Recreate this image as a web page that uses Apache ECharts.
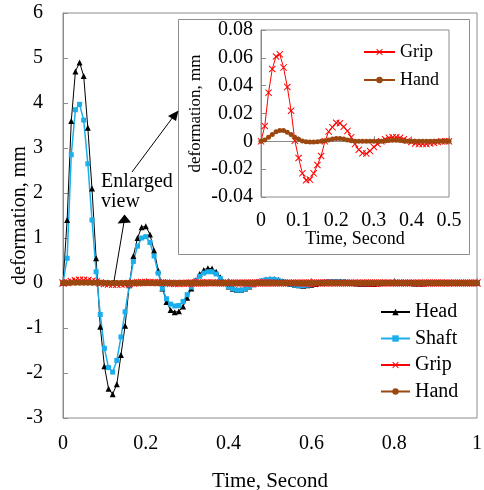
<!DOCTYPE html>
<html>
<head>
<meta charset="utf-8">
<script src="https://cdn.jsdelivr.net/npm/echarts/dist/echarts.min.js"></script>
<style>
html,body{margin:0;padding:0;background:#fff;}
#chart{width:484px;height:490px;}
</style>
</head>
<body>
<div id="chart"></div>
<script>
// Sample times (s)
const time = [0,0.01,0.02,0.03,0.04,0.05,0.06,0.07,0.08,0.09,
0.10,0.11,0.12,0.13,0.14,0.15,0.16,0.17,0.18,0.19,
0.20,0.21,0.22,0.23,0.24,0.25,0.26,0.27,0.28,0.29,
0.30,0.31,0.32,0.33,0.34,0.35,0.36,0.37,0.38,0.39,
0.40,0.41,0.42,0.43,0.44,0.45,0.46,0.47,0.48,0.49,
0.50,0.51,0.52,0.53,0.54,0.55,0.56,0.57,0.58,0.59,
0.60,0.61,0.62,0.63,0.64,0.65,0.66,0.67,0.68,0.69,
0.70,0.71,0.72,0.73,0.74,0.75,0.76,0.77,0.78,0.79,
0.80,0.81,0.82,0.83,0.84,0.85,0.86,0.87,0.88,0.89,
0.90,0.91,0.92,0.93,0.94,0.95,0.96,0.97,0.98,0.99,1.00];

// Head deformation (mm)
const head = [0,1.4,3.6,4.7,4.9,4.6,3.45,2.1,0.55,-0.97,
-1.85,-2.35,-2.47,-2.25,-1.6,-0.95,-0.05,0.6,1.0,1.24,
1.26,1.08,0.72,0.28,-0.12,-0.42,-0.6,-0.65,-0.63,-0.52,
-0.33,-0.12,0.06,0.2,0.29,0.33,0.32,0.25,0.13,0.01,
-0.08,-0.13,-0.15,-0.15,-0.12,-0.08,-0.03,0.02,0.05,0.08,
0.09,0.09,0.07,0.04,0.01,-0.02,-0.04,-0.05,-0.06,-0.05,
-0.04,-0.02,0.0,0.01,0.02,0.03,0.03,0.03,0.02,0.01,
0.0,-0.01,-0.02,-0.02,-0.02,-0.02,-0.01,0.0,0.01,0.01,
0.01,0.01,0.01,0.0,0.0,-0.01,-0.01,-0.01,0.0,0.0,
0.0,0.01,0.0,0.0,0.0,0.0,0.0,0.0,0.0,0.0,0.0];

// Shaft deformation (mm)
const shaft = [0,0.55,2.85,3.85,3.97,3.62,2.65,1.4,0.25,-0.7,
-1.45,-1.88,-1.98,-1.72,-1.2,-0.64,-0.05,0.48,0.82,1.0,
1.03,0.9,0.6,0.22,-0.12,-0.35,-0.47,-0.51,-0.5,-0.41,
-0.26,-0.09,0.05,0.15,0.22,0.25,0.25,0.2,0.1,0.0,
-0.08,-0.13,-0.16,-0.16,-0.13,-0.08,-0.03,0.02,0.05,0.07,
0.08,0.08,0.06,0.03,0.0,-0.03,-0.05,-0.06,-0.06,-0.05,
-0.03,-0.01,0.01,0.02,0.03,0.03,0.03,0.02,0.02,0.01,
0.0,-0.01,-0.02,-0.02,-0.02,-0.01,-0.01,0.0,0.01,0.01,
0.01,0.01,0.0,0.0,0.0,-0.01,-0.01,0.0,0.0,0.0,
0.0,0.0,0.0,0.0,0.0,0.0,0.0,0.0,0.0,0.0,0.0];

// Grip deformation (mm), 0 - 0.5 s
const grip = [0,0.011,0.035,0.052,0.061,0.0625,0.053,0.039,0.022,0.0005,
-0.012,-0.023,-0.028,-0.0275,-0.023,-0.017,-0.0105,0.0,0.007,0.0102,
0.0133,0.013,0.0105,0.0075,0.003,-0.002,-0.006,-0.0085,-0.0088,-0.007,
-0.004,-0.002,0.0,0.0015,0.0025,0.003,0.003,0.0025,0.0015,0.0005,
-0.0005,-0.0015,-0.002,-0.002,-0.002,-0.0015,-0.001,-0.0005,0,0,0];
// Grip, 0.51 - 1.0 s
const gripTail = [0,0.0005,0.001,0.001,0.0005,0,-0.0005,-0.001,-0.001,-0.0005,
0,0.0005,0.0005,0.0005,0,0,-0.0005,-0.0005,0,0,
0,0,0,0,0,0,0,0,0,0,
0,0,0,0,0,0,0,0,0,0,
0,0,0,0,0,0,0,0,0,0];

// Hand deformation (mm), 0 - 0.5 s
const hand = [0,0.001,0.003,0.005,0.0068,0.0077,0.0077,0.0066,0.005,0.003,
0.0015,0.0003,-0.0003,-0.0005,-0.0005,-0.0003,0.0,0.0005,0.001,0.0017,
0.002,0.002,0.0016,0.001,0.0005,0,0,0,0,0,
0,0,0,0.0003,0.0006,0.0008,0.0008,0.0006,0.0003,0,
0,0,0,0,0,0,0,0,0,0,0];
// Hand, 0.51 - 1.0 s
const handTail = [0,0,0,0,0,0,0,0,0,0,
0,0,0,0,0,0,0,0,0,0,
0,0,0,0,0,0,0,0,0,0,
0,0,0,0,0,0,0,0,0,0,
0,0,0,0,0,0,0,0,0,0];

const FONT = 'Liberation Serif';
const AX = '#8c8c8c';
const C_HEAD = '#000000', C_SHAFT = '#1aaeea', C_GRIP = '#ff0000', C_HAND = '#9b4710';
const X_SYMBOL = 'path://M0,1L1,0L5,4L9,0L10,1L6,5L10,9L9,10L5,6L1,10L0,9L4,5Z';

const pair = (ts, vs) => vs.map((v, i) => [ts[i], v]);
const gripFull = grip.concat(gripTail);
const handFull = hand.concat(handTail);
const tInset = time.slice(0, grip.length);

function axisCommon(fs) {
  return {
    nameMoveOverlap: false,
    axisLine: {show: true, lineStyle: {color: AX, width: 1}},
    axisTick: {show: true, inside: true, length: 5, lineStyle: {color: AX}},
    splitLine: {show: false},
    axisLabel: {color: '#000', fontSize: fs, fontFamily: FONT},
    nameTextStyle: {color: '#000', fontFamily: FONT}
  };
}

const chart = echarts.init(document.getElementById('chart'), null, {renderer: 'canvas'});

const x0 = axisCommon(20), y0 = axisCommon(20), x1 = axisCommon(20), y1 = axisCommon(20);
Object.assign(x0, {gridIndex: 0, type: 'value', min: 0, max: 1, interval: 0.2,
  name: 'Time, Second', nameLocation: 'middle', nameGap: 53});
x0.axisLabel.margin = 16; x0.nameTextStyle.fontSize = 21;
Object.assign(y0, {gridIndex: 0, type: 'value', min: -3, max: 6, interval: 1,
  name: 'deformation, mm', nameLocation: 'middle', nameGap: 33});
y0.axisLabel.margin = 20; y0.nameTextStyle.fontSize = 20;
Object.assign(x1, {gridIndex: 1, type: 'value', min: 0, max: 0.5, interval: 0.1, z: 12,
  name: 'Time, Second', nameLocation: 'middle', nameGap: 33});
x1.axisLabel.margin = 14; x1.nameTextStyle.fontSize = 18;
Object.assign(y1, {gridIndex: 1, type: 'value', min: -0.04, max: 0.08, interval: 0.02, z: 12,
  name: 'deformation, mm', nameLocation: 'middle', nameGap: 57});
y1.axisLabel.margin = 8; y1.nameTextStyle.fontSize = 17;

const option = {
  animation: false,
  backgroundColor: '#fff',
  grid: [
    {left: 63, top: 13, width: 414, height: 405, show: true, borderColor: AX, borderWidth: 1,
      backgroundColor: 'transparent', containLabel: false, outerBoundsMode: 'none'},
    {left: 261, top: 30, width: 188, height: 167, show: true, borderColor: AX, borderWidth: 1,
      backgroundColor: 'transparent', z: 11, containLabel: false, outerBoundsMode: 'none'}
  ],
  xAxis: [x0, x1],
  yAxis: [y0, y1],
  legend: [
    {data: ['Head', 'Shaft', 'Grip', 'Hand'], orient: 'vertical', left: 380, top: 302,
      itemWidth: 29, itemHeight: 8, itemGap: 6.5, padding: 0, selectedMode: false,
      textStyle: {fontSize: 20, fontFamily: FONT, color: '#000'}},
    {data: ['Grip', 'Hand'], orient: 'vertical', left: 363, top: 43, z: 14,
      itemWidth: 31, itemHeight: 8, itemGap: 10, padding: 0, selectedMode: false,
      textStyle: {fontSize: 18, fontFamily: FONT, color: '#000'}}
  ],
  graphic: [
    {type: 'rect', z: 10, shape: {x: 178.5, y: 19.5, width: 291, height: 235},
      style: {fill: '#fff', stroke: AX, lineWidth: 1}},
    {type: 'text', z: 10, x: 101, y: 172,
      style: {text: 'Enlarged\nview', font: '20px "Liberation Serif"', fill: '#000', lineHeight: 20, verticalAlign: 'top', align: 'left'}},
    {type: 'line', z: 10, shape: {x1: 132, y1: 172, x2: 173, y2: 117}, style: {stroke: '#000', lineWidth: 1}},
    {type: 'polygon', z: 10, shape: {points: [[178.5, 110.5], [168, 116], [176, 121]]}, style: {fill: '#000'}},
    {type: 'line', z: 10, shape: {x1: 124, y1: 222, x2: 114, y2: 281}, style: {stroke: '#000', lineWidth: 1}},
    {type: 'polygon', z: 10, shape: {points: [[124.5, 214.5], [117.5, 223.5], [131, 222.5]]}, style: {fill: '#000'}}
  ],
  series: [
    {name: 'Head', type: 'line', xAxisIndex: 0, yAxisIndex: 0, data: pair(time, head),
      symbol: 'triangle', symbolSize: 6, showSymbol: true,
      lineStyle: {color: C_HEAD, width: 1}, itemStyle: {color: C_HEAD}},
    {name: 'Shaft', type: 'line', xAxisIndex: 0, yAxisIndex: 0, data: pair(time, shaft),
      symbol: 'rect', symbolSize: 5, showSymbol: true,
      lineStyle: {color: C_SHAFT, width: 1.5}, itemStyle: {color: C_SHAFT}},
    {name: 'Grip', type: 'line', xAxisIndex: 0, yAxisIndex: 0, data: pair(time, gripFull),
      symbol: X_SYMBOL, symbolSize: 8, showSymbol: true,
      lineStyle: {color: C_GRIP, width: 1}, itemStyle: {color: C_GRIP}},
    {name: 'Hand', type: 'line', xAxisIndex: 0, yAxisIndex: 0, data: pair(time, handFull),
      symbol: 'circle', symbolSize: 6, showSymbol: true,
      lineStyle: {color: C_HAND, width: 2}, itemStyle: {color: C_HAND}},
    {name: 'Grip', type: 'line', xAxisIndex: 1, yAxisIndex: 1, data: pair(tInset, grip), z: 13,
      symbol: X_SYMBOL, symbolSize: 7, showSymbol: true,
      lineStyle: {color: C_GRIP, width: 1}, itemStyle: {color: C_GRIP}},
    {name: 'Hand', type: 'line', xAxisIndex: 1, yAxisIndex: 1, data: pair(tInset, hand), z: 13,
      symbol: 'circle', symbolSize: 5, showSymbol: true,
      lineStyle: {color: C_HAND, width: 1.5}, itemStyle: {color: C_HAND}}
  ]
};
chart.setOption(option);
</script>
</body>
</html>
